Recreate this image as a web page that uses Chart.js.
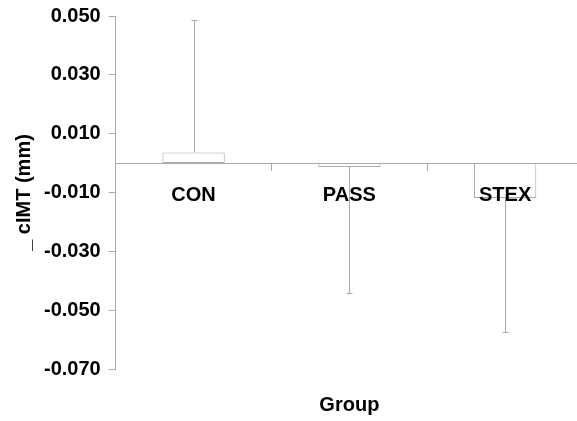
<!DOCTYPE html>
<html>
<head>
<meta charset="utf-8">
<style>
  html, body { margin: 0; padding: 0; background: #fff; overflow: hidden; }
  #wrap { width: 590px; height: 421px; }
</style>
</head>
<body>
<div id="wrap"><canvas id="chart"></canvas></div>
<script src="https://cdn.jsdelivr.net/npm/chart.js"></script>
<script>
  const groups = ['CON', 'PASS', 'STEX'];
  const meanChange = [0.0036, -0.0013, -0.0119];
  const errorSize = [0.0451, 0.0429, 0.0456];
  const yTicks = [-0.07, -0.05, -0.03, -0.01, 0.01, 0.03, 0.05];

  const gray = '#aaaaaa';
  const boldFont = { family: 'Liberation Sans, Arial, sans-serif', size: 20, weight: 'bold' };

  // one-sided error bars, drawn away from zero
  const errorBars = {
    id: 'errorBars',
    afterDatasetsDraw(chart) {
      const ctx = chart.ctx;
      const yScale = chart.scales.y;
      const meta = chart.getDatasetMeta(0);
      ctx.save();
      ctx.strokeStyle = gray;
      ctx.lineWidth = 1;
      meta.data.forEach((bar, i) => {
        const v = meanChange[i];
        const end = v >= 0 ? v + errorSize[i] : v - errorSize[i];
        const x = Math.round(bar.x) + 0.5;
        const y0 = yScale.getPixelForValue(v);
        const y1 = Math.round(yScale.getPixelForValue(end)) + 0.5;
        ctx.beginPath();
        ctx.moveTo(x, y0);
        ctx.lineTo(x, y1);
        ctx.moveTo(x - 3, y1);
        ctx.lineTo(x + 3, y1);
        ctx.stroke();
      });
      ctx.restore();
    }
  };

  new Chart(document.getElementById('chart'), {
    type: 'bar',
    data: {
      labels: groups,
      datasets: [{
        data: meanChange,
        backgroundColor: '#ffffff',
        borderColor: gray,
        borderWidth: 1,
        borderSkipped: false,
        barPercentage: 0.4,
        categoryPercentage: 1.0
      }]
    },
    options: {
      responsive: true,
      maintainAspectRatio: false,
      animation: false,
      layout: { padding: { left: 12, top: 16, right: 7, bottom: 0 } },
      plugins: {
        legend: { display: false },
        tooltip: { enabled: false },
        title: {
          display: true,
          text: 'Group',
          position: 'bottom',
          fullSize: false,
          color: '#000',
          font: boldFont,
          padding: { top: 24, bottom: 4 }
        }
      },
      scales: {
        x: {
          position: { y: 0 },
          offset: true,
          grid: { offset: true, drawOnChartArea: false, tickLength: 7, color: gray },
          border: { color: gray, z: 1 },
          ticks: { color: '#000', font: boldFont, padding: 13, maxRotation: 0, z: 1 }
        },
        y: {
          min: -0.07,
          max: 0.05,
          afterBuildTicks(scale) {
            scale.ticks = yTicks.map(v => ({ value: v }));
          },
          afterFit(scale) {
            scale.paddingTop = 0;
            scale.paddingBottom = 0;
          },
          grid: { drawOnChartArea: false, tickLength: 7, color: gray },
          border: { color: gray },
          ticks: {
            color: '#000',
            font: boldFont,
            padding: 8,
            callback: v => v.toFixed(3)
          },
          title: {
            display: true,
            text: '_ cIMT (mm)',
            color: '#000',
            font: boldFont,
            padding: 0
          }
        }
      }
    },
    plugins: [errorBars]
  });
</script>
</body>
</html>
